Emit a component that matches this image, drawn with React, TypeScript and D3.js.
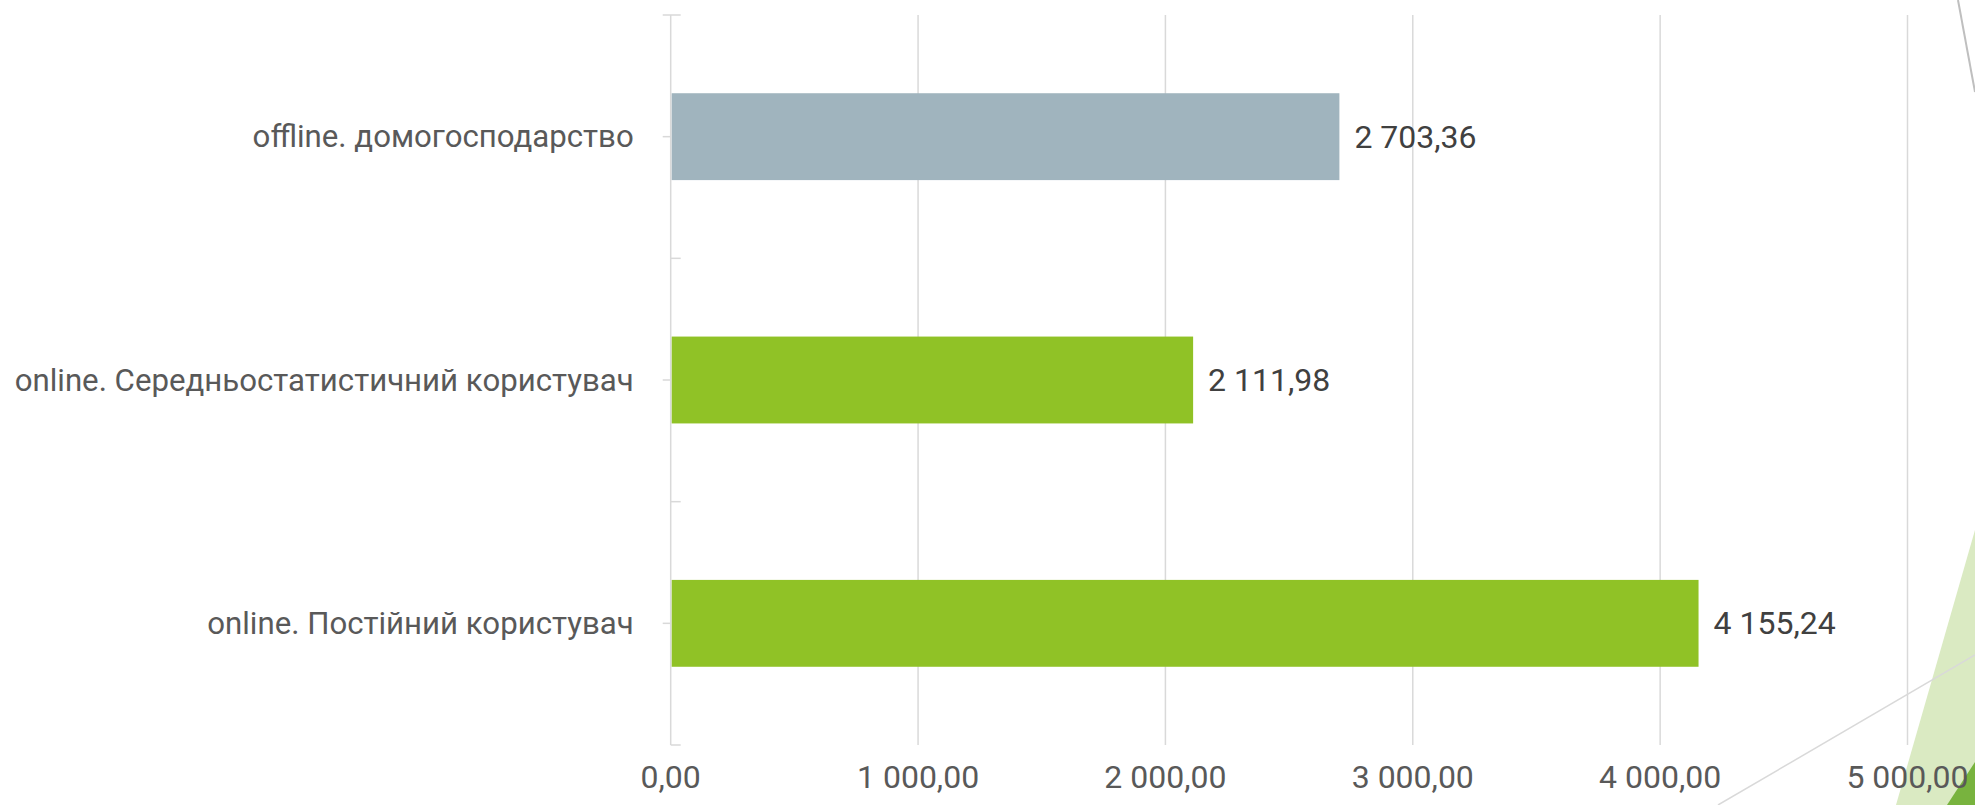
import React from "react";
import * as d3 from "d3";

const categories = [
  "offline. домогосподарство",
  "online. Середньостатистичний користувач",
  "online. Постійний користувач",
];
const values = [2703.36, 2111.98, 4155.24];
const barColors = ["#A0B4BE", "#90C226", "#90C226"];
const xTicks = [0, 1000, 2000, 3000, 4000, 5000];

const W = 1975;
const H = 805;
const FONT = "Roboto, 'Open Sans', sans-serif";

const locale = d3.formatLocale({
  decimal: ",",
  thousands: " ",
  grouping: [3],
  currency: ["", ""],
});
const fmt = locale.format(",.2f");

export default function App() {
  const x = d3.scaleLinear().domain([0, 5000]).range([670.7, 1907.5]);
  const y = d3.scaleBand<string>().domain(categories).range([15, 745]).padding(0);
  const barH = y.bandwidth() * 0.357;
  const top = 15;
  const bottom = 745;
  const x0 = x(0);
  const grid = "#D9D9D9";

  return (
    <svg
      width={W}
      height={H}
      style={{ position: "absolute", left: 0, top: 0, background: "#fff" }}
      fontFamily={FONT}
    >
      {/* decorative theme shapes */}
      <line x1={1958} y1={0} x2={1975} y2={92} stroke="#BFBFBF" strokeWidth={2} />
      <polygon points="1975,530 1896,805 1975,805" fill="#DAEAC2" />
      <polygon points="1975,762 1947,805 1975,805" fill="#78B33E" />
      <line x1={1718} y1={805} x2={1975} y2={655} stroke="#D9D9D9" strokeWidth={1.5} />

      {/* gridlines */}
      {xTicks.slice(1).map((t) => (
        <line key={t} x1={x(t)} x2={x(t)} y1={top} y2={bottom} stroke={grid} strokeWidth={1.5} />
      ))}

      {/* category axis */}
      <line x1={x0} x2={x0} y1={top} y2={bottom} stroke={grid} strokeWidth={1.5} />
      <line x1={x0 - 8} x2={x0 + 10} y1={top} y2={top} stroke={grid} strokeWidth={1.5} />
      <line x1={x0} x2={x0 + 10} y1={bottom} y2={bottom} stroke={grid} strokeWidth={1.5} />
      {categories.slice(1).map((c) => (
        <line key={c} x1={x0} x2={x0 + 10} y1={y(c)!} y2={y(c)!} stroke={grid} strokeWidth={1.5} />
      ))}
      {categories.map((c) => (
        <line
          key={c + "m"}
          x1={x0 - 8}
          x2={x0}
          y1={y(c)! + y.bandwidth() / 2}
          y2={y(c)! + y.bandwidth() / 2}
          stroke={grid}
          strokeWidth={1.5}
        />
      ))}

      {/* bars */}
      {categories.map((c, i) => {
        const cy = y(c)! + y.bandwidth() / 2;
        return (
          <g key={c}>
            <rect x={x0 + 1} y={cy - barH / 2} width={x(values[i]) - x0 - 1} height={barH} fill={barColors[i]} />
            <text
              x={x(values[i]) + 15}
              y={cy}
              dominantBaseline="central"
              fontSize={32}
              fill="#404040"
            >
              {fmt(values[i])}
            </text>
            <text
              x={x0 - 37}
              y={cy}
              dominantBaseline="central"
              textAnchor="end"
              fontSize={31.2}
              fill="#595959"
            >
              {c}
            </text>
          </g>
        );
      })}

      {/* x tick labels */}
      {xTicks.map((t) => (
        <text
          key={t}
          x={x(t)}
          y={777}
          dominantBaseline="central"
          textAnchor="middle"
          fontSize={32}
          fill="#595959"
        >
          {fmt(t)}
        </text>
      ))}
    </svg>
  );
}
